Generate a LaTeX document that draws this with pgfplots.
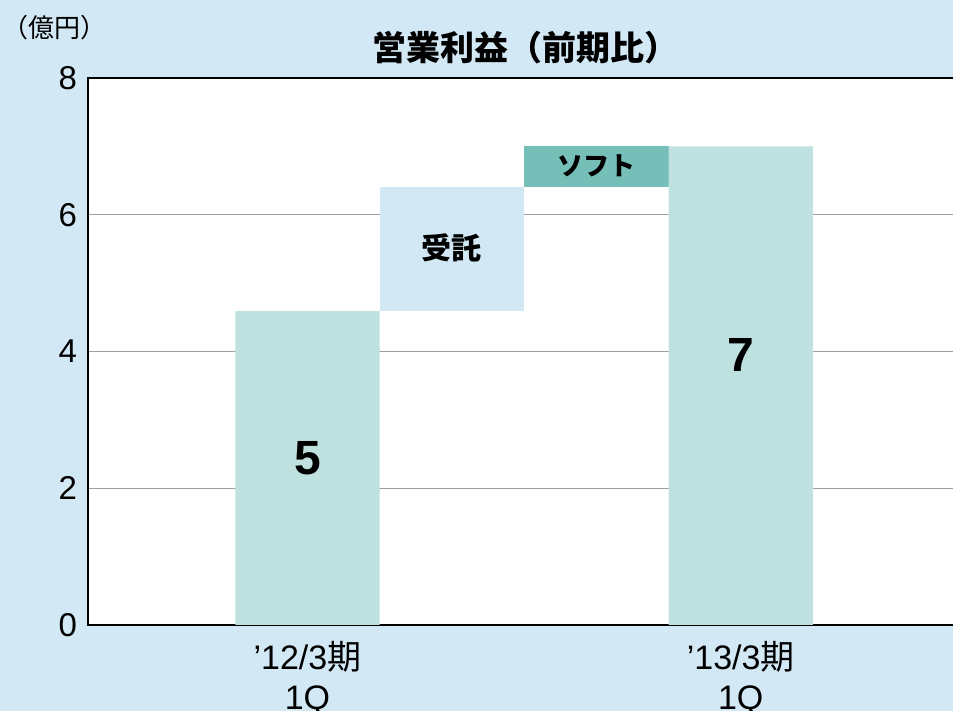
\documentclass[border=0pt]{standalone}
\usepackage{fontspec}
\setmainfont{Liberation Sans}
\newfontfamily\cjk{Noto Sans CJK JP}
\usepackage{pgfplots}
\pgfplotsset{compat=1.18}
\definecolor{bgBlue}{HTML}{D2E8F5}
\definecolor{barPale}{HTML}{BFE1E0}
\definecolor{barSoft}{HTML}{76BFB8}
\definecolor{gridGrey}{HTML}{A0A0A0}

\begin{document}
\begin{tikzpicture}
\useasboundingbox (0pt,0pt) rectangle (476.5pt,355.5pt);
\clip (0pt,0pt) rectangle (476.5pt,355.5pt);
\fill[bgBlue] (0pt,0pt) rectangle (476.5pt,355.5pt);
\begin{axis}[
  at={(44pt,43pt)}, anchor=south west,
  scale only axis, width=432.5pt, height=273.5pt,
  xmin=-1.52, xmax=4.47, ymin=0, ymax=8,
  ybar stacked, bar width=1,
  clip=false,
  axis line style={draw=none},
  axis background/.style={fill=white},
  major tick length=0pt,
  ytick={0,2,4,6,8},
  ymajorgrids, grid style={gridGrey, line width=0.6pt},
  xtick={0,3},
  xticklabels={{’12/3{\cjk 期}\\1Q},{’13/3{\cjk 期}\\1Q}},
  xticklabel style={align=center, font=\fontsize{17}{20}\selectfont, yshift=-4.5pt},
  yticklabel style={font=\fontsize{16.5}{18}\selectfont, xshift=-2pt},
  /pgf/number format/assume math mode=true,
]
% invisible base
\addplot[fill=none, draw=none] coordinates {(0,0) (1,4.59) (2,6.41) (3,0)};
% totals
\addplot[fill=barPale, draw=none] coordinates {(0,4.59) (1,0) (2,0) (3,7.0)};
% 受託
\addplot[fill=bgBlue, draw=none] coordinates {(0,0) (1,1.82) (2,0) (3,0)};
% ソフト
\addplot[fill=barSoft, draw=none] coordinates {(0,0) (1,0) (2,0.59) (3,0)};

\coordinate (l5) at (axis cs:0,2.44);
\coordinate (l7) at (axis cs:3,3.95);
\coordinate (lju) at (axis cs:1,5.51);
\coordinate (lso) at (axis cs:2,6.72);

\draw[line width=1.2pt] (rel axis cs:1.05,1) -- (rel axis cs:0,1) -- (rel axis cs:0,0) -- (rel axis cs:1.05,0);
\end{axis}
\node[font=\fontsize{24}{24}\selectfont\bfseries] at (l5) {5};
\node[font=\fontsize{24}{24}\selectfont\bfseries] at (l7) {7};
\node[font=\cjk\fontsize{15}{15}\selectfont\bfseries] at (lju) {受託};
\node[font=\cjk\fontsize{13}{13}\selectfont\bfseries] at (lso) {ソフト};
\node[font=\cjk\fontsize{13}{13}\selectfont] at (27.5pt,341.5pt) {（億円）};
\node[font=\cjk\fontsize{17}{17}\selectfont\bfseries] at (262.5pt,331.5pt) {営業利益（前期比）};
\end{tikzpicture}
\end{document}
